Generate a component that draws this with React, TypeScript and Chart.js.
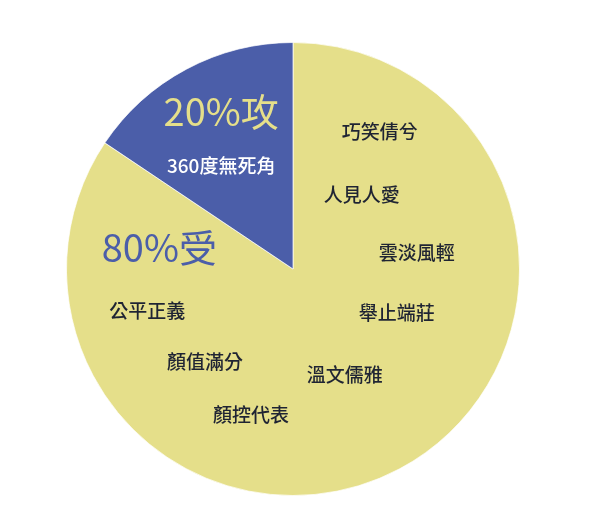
import React, { useEffect, useRef } from "react";
import { Chart, registerables } from "chart.js";

Chart.register(...registerables);

// Slices (shares as drawn in the picture, clockwise from 12 o'clock)
const sliceLabels = ["受", "攻"];
const sliceShares = [84.4, 15.6];
const sliceColors = ["#e5df8a", "#4b5ea9"];

// Text annotations: text, offset as fraction of radius from center
const noteTexts = [
  "20%攻", "360度無死角", "80%受",
  "巧笑倩兮", "人見人愛", "雲淡風輕", "舉止端莊", "溫文儒雅",
  "公平正義", "顏值滿分", "顏控代表",
];
const noteDx = [-0.317, -0.317, -0.59, 0.383, 0.304, 0.546, 0.458, 0.229, -0.643, -0.388, -0.185];
const noteDy = [-0.696, -0.454, -0.093, -0.604, -0.326, -0.07, 0.194, 0.467, 0.185, 0.41, 0.643];
const noteSizes = [38, 19, 38, 19, 19, 19, 19, 19, 19, 19, 19];
const noteWeights = [400, 500, 400, 500, 500, 500, 500, 500, 500, 500, 500];
const noteColors = [
  "#e5df8a", "#ffffff", "#4b5ea9",
  "#1f2433", "#1f2433", "#1f2433", "#1f2433", "#1f2433",
  "#1f2433", "#1f2433", "#1f2433",
];

const FONT = '"Noto Sans CJK TC", "Noto Sans CJK SC", "Noto Sans", sans-serif';

const notesPlugin = {
  id: "notes",
  afterDatasetsDraw(chart: any) {
    const arc = chart.getDatasetMeta(0).data[0];
    if (!arc) return;
    const { x, y, outerRadius } = arc.getProps(["x", "y", "outerRadius"], true);
    const ctx = chart.ctx;
    ctx.save();
    ctx.textAlign = "center";
    ctx.textBaseline = "middle";
    noteTexts.forEach((t, i) => {
      ctx.font = `${noteWeights[i]} ${noteSizes[i]}px ${FONT}`;
      ctx.fillStyle = noteColors[i];
      ctx.fillText(t, x + noteDx[i] * outerRadius, y + noteDy[i] * outerRadius);
    });
    ctx.restore();
  },
};

export default function App() {
  const ref = useRef<HTMLCanvasElement>(null);
  useEffect(() => {
    document.body.style.margin = "0";
    const chart = new Chart(ref.current as HTMLCanvasElement, {
      type: "pie",
      data: {
        labels: sliceLabels,
        datasets: [
          {
            data: sliceShares,
            backgroundColor: sliceColors,
            borderColor: "rgba(255,255,255,0.7)",
            borderWidth: 1,
          },
        ],
      },
      options: {
        responsive: false,
        animation: false,
        layout: { padding: { left: 66, right: 80, top: 42, bottom: 24 } },
        plugins: {
          legend: { display: false },
          tooltip: { enabled: false },
        },
      },
      plugins: [notesPlugin],
    });
    return () => chart.destroy();
  }, []);
  return (
    <div style={{ position: "fixed", left: 0, top: 0, width: 600, height: 520, background: "#fff" }}>
      <canvas ref={ref} width={600} height={520} style={{ width: 600, height: 520 }} />
    </div>
  );
}
